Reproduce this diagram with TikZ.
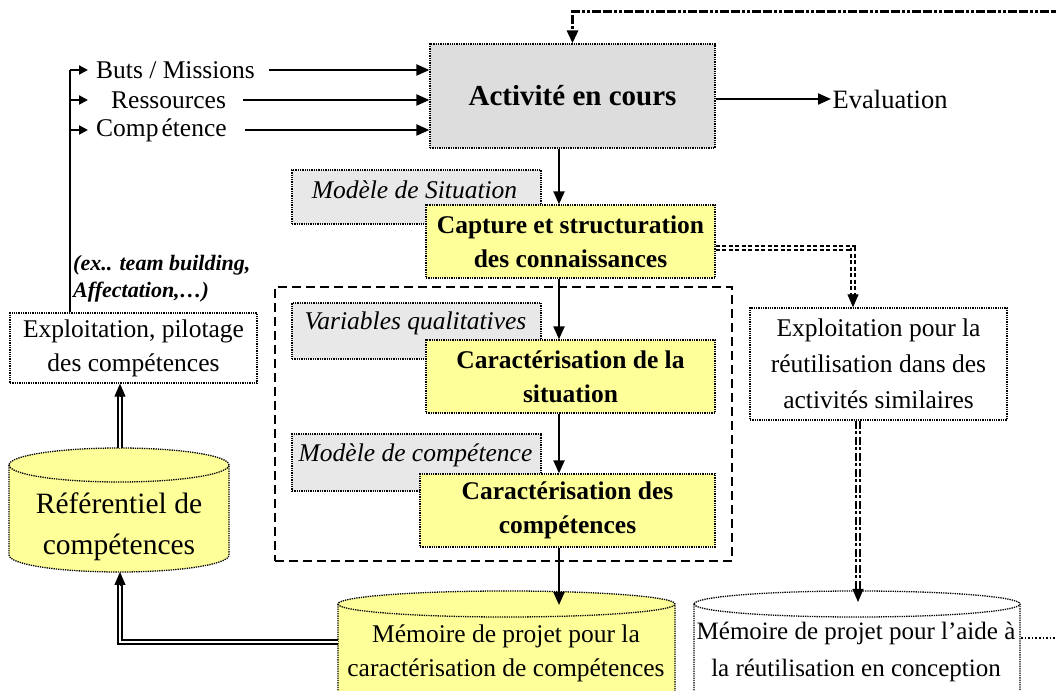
\documentclass[tikz,border=0pt]{standalone}
\usepackage{fontspec}
\setmainfont{Liberation Serif}
\usetikzlibrary{arrows.meta,calc}
\definecolor{yel}{RGB}{255,255,153}
\definecolor{lgray}{RGB}{232,232,232}
\definecolor{tgray}{RGB}{221,221,221}
% x1, x2, Y of top ellipse centre, Y of bottom ellipse centre, ry, fill
\newcommand\mycyl[6]{%
  \pgfmathsetmacro\myrx{(#2-#1)/2}%
  \filldraw[cyl, fill=#6] (#1,#3) -- (#1,#4)
     arc[start angle=180, end angle=360, x radius=\myrx, y radius=#5]
     -- (#2,#3)
     arc[start angle=0, end angle=180, x radius=\myrx, y radius=#5] -- cycle;
  \draw[cyl] (#1,#3) arc[start angle=180, end angle=360, x radius=\myrx, y radius=#5];
}
\begin{document}
\begin{tikzpicture}[x=1pt,y=1pt,
  box/.style={draw, densely dotted, line width=1.3pt, inner sep=0pt},
  ybox/.style={box, fill=yel, align=center, font=\bfseries\fontsize{25.5}{34}\selectfont},
  gbox/.style={box, fill=lgray},
  glbl/.style={font=\itshape\fontsize{25.5}{30}\selectfont, inner sep=0pt},
  wbox/.style={box, fill=white, align=center},
  txt/.style={font=\fontsize{25.5}{30}\selectfont, inner sep=0pt, anchor=west},
  arr/.style={line width=2.2pt, -{Triangle[length=13pt,width=11pt]}},
  sarr/.style={line width=2pt, -{Triangle[length=9pt,width=9pt]}},
  tipsty/.style={line width=1pt, -{Triangle[length=13pt,width=11pt]}},
  dbl/.style={double, double distance=2.5pt, line width=1.4pt},
  fb/.style={line width=3pt, dash pattern=on 9pt off 2pt on 9pt off 2pt on 3pt off 2pt on 3pt off 2pt},
  ddot/.style={double, double distance=2.5pt, line width=1.6pt, dash pattern=on 4pt off 2.5pt},
  ddash/.style={double, double distance=2.5pt, line width=1.6pt, dash pattern=on 8pt off 2.5pt on 3pt off 2.5pt},
  cyl/.style={densely dotted, line width=1.3pt},
  cyltxt/.style={align=center, inner sep=0pt},
  frame/.style={draw, line width=1.8pt, dash pattern=on 9pt off 5pt, inner sep=0pt}
]
\path[use as bounding box] (0,0) rectangle (1056,690);
\clip (0,0) rectangle (1056,690);

% axis of the central column
\coordinate (ax) at (559,594);

% ---- Activity box
\node[box, fill=tgray, minimum width=285, minimum height=104,
      font=\bfseries\fontsize{29}{34}\selectfont] (act) at (572.5,594) {Activité en cours};

% ---- inputs
\node[txt] (buts) at (96,620) {Buts / Missions};
\node[txt] (res) at (111,590) {Ressources};
\node[txt] (comp) at (96,560) {Comp\kern3pt étence};
\draw[arr] ([xshift=14]buts.east) -- (buts.east -| act.west);
\draw[arr] ([xshift=17]res.east) -- (res.east -| act.west);
\draw[arr] ([xshift=18]comp.east) -- (comp.east -| act.west);

% ---- evaluation
\node[txt, font=\fontsize{26.5}{30}\selectfont, inner xsep=1.5pt] (eval) at (831,591) {Evaluation};
\draw[arr] (act.east |- eval.west) -- (eval.west);

% ---- top feedback line
\coordinate (fbR) at (1060,678);
\draw[fb, -{Triangle[length=13pt,width=11pt]}] (fbR) -| (act.north);

% ---- dashed frame
\node[frame, minimum width=457, minimum height=274] (frm) at (503.5,266) {};

% ---- grey model boxes
\node[gbox, minimum width=249, minimum height=54] (ms) at (416.5,493) {};
\node[glbl] at ([yshift=7,xshift=-2]ms.center) {Modèle de Situation};
\node[gbox, minimum width=249, minimum height=56] (vq) at (416.5,359) {};
\node[glbl] at ([yshift=8,xshift=-1]vq.center) {Variables qualitatives};
\node[gbox, minimum width=249, minimum height=57] (mc) at (416.5,227.5) {};
\node[glbl] at ([yshift=7.5,xshift=-1]mc.center) {Modèle de compétence};

% ---- yellow process boxes
\node[ybox, minimum width=289, minimum height=73] (cap) at (570.5,448.5)
  {Capture et structuration\\des connaissances};
\node[ybox, minimum width=289, minimum height=73] (sit) at (570.5,313.5)
  {Caractérisation de la\\situation};
\node[ybox, minimum width=295, minimum height=73] (cc) at (567.5,179.5)
  {Caractérisation des\\compétences};

\draw[arr] (act.south -| ax) -- (cap.north -| ax);
\draw[arr] (cap.south -| ax) -- (sit.north -| ax);
\draw[arr] (sit.south -| ax) -- (cc.north -| ax);

% ---- exploitation (right)
\node[wbox, minimum width=257, minimum height=112, font=\fontsize{25.5}{36}\selectfont] (exr) at (878.5,326)
  {Exploitation pour la\\réutilisation dans des\\activités similaires};

% ---- exploitation (left)
\node[wbox, minimum width=247, minimum height=70, font=\fontsize{25.5}{34}\selectfont] (expl) at (133.5,342)
  {Exploitation, pilotage\\des compétences};
\node[inner sep=0pt, anchor=west, align=left, font=\bfseries\itshape\fontsize{22}{27}\selectfont] (ex) at (73,411.5)
  {(ex.. team building,\\Affectation,…)};

% ---- left feedback line
\coordinate (lt) at (70,620);
\draw[line width=2pt] (lt) -- (lt |- expl.north);
\draw[sarr] (lt |- buts.west) -- ([xshift=-8]buts.west);
\draw[sarr] (lt |- res.west) -- ([xshift=-8]buts.west |- res.west);
\draw[sarr] (lt |- comp.west) -- ([xshift=-8]comp.west);

% ---- cylinders
\mycyl{9}{229}{225}{135}{17}{yel}
\node[cyltxt, font=\fontsize{29.5}{41}\selectfont] (ref) at (119,163) {Référentiel de\\compétences};
\coordinate (reftop) at (120,242);
\coordinate (refbot) at (120,118);

\mycyl{338}{675}{86}{-20}{13}{yel}
\node[cyltxt, font=\fontsize{25.5}{34}\selectfont] (memy) at (506,37) {Mémoire de projet pour la\\caractérisation de compétences};
\coordinate (memyL) at (338,48);
\coordinate (memytop) at (559,85);

\mycyl{694}{1020}{86}{-20}{13}{white}
\node[cyltxt, font=\fontsize{25}{37}\selectfont] (memw) at (856,38.5) {Mémoire de projet pour l’aide à\\la réutilisation en conception};
\coordinate (memwtop) at (858,88);
\coordinate (memwR) at (1021,52);
\coordinate (edgeR) at (1056,52);

% ---- connectors to cylinders
\draw[dbl] (reftop) -- ([yshift=-11]expl.south -| reftop);
\draw[tipsty] ([yshift=-13]expl.south -| reftop) -- (expl.south -| reftop);
\draw[dbl] (memyL) -| ([yshift=-11]refbot);
\draw[tipsty] ([yshift=-13]refbot) -- (refbot);
\draw[arr] (cc.south -| ax) -- (memytop);

\draw[ddot] ([yshift=-6.5]cap.east) -| ([xshift=-25.5,yshift=11]exr.north);
\draw[tipsty] ([xshift=-25.5,yshift=13]exr.north) -- ([xshift=-25.5]exr.north);
\draw[ddash] ([xshift=-20.5]exr.south) -- ([yshift=11]memwtop);
\draw[tipsty] ([yshift=13]memwtop) -- (memwtop);
\draw[dotted, line width=1.6pt] (memwR) -- (edgeR);
\end{tikzpicture}
\end{document}
